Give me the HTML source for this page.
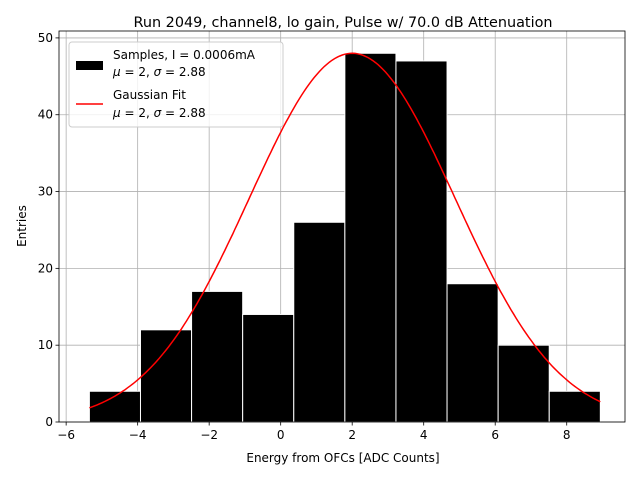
<!DOCTYPE html>
<html><head><meta charset="utf-8"><style>
body{margin:0;background:#fff;font-family:"Liberation Sans","DejaVu Sans",sans-serif}
</style></head><body>
<svg id="chart" width="640" height="480" xmlns="http://www.w3.org/2000/svg" font-family="DejaVu Sans, Liberation Sans, sans-serif">
<g id="grid"></g><g id="bars"></g><g id="fit"></g><g id="axes"></g><g id="legend"></g>
</svg>
<script>
const binStart = -5.35;
const binWidth = 1.429;
const counts = [4, 12, 17, 14, 26, 48, 47, 18, 10, 4];
const fitAmp = [48];
const fitMu = [2];
const fitSigma = [2.88];
const xTicks = [-6, -4, -2, 0, 2, 4, 6, 8];
const yTicks = [0, 10, 20, 30, 40, 50];

const L=59,R=625,T=31,B=422;
const xmin=-6.2,xmax=9.63,ymin=0,ymax=50.9;
const X=v=>L+(v-xmin)/(xmax-xmin)*(R-L);
const Y=v=>B-(v-ymin)/(ymax-ymin)*(B-T);
const NS="http://www.w3.org/2000/svg";
function mk(tag,attrs,parent,text){const e=document.createElementNS(NS,tag);for(const k in attrs)e.setAttribute(k,attrs[k]);if(text!==undefined)e.textContent=text;parent.appendChild(e);return e;}
const grid=document.getElementById('grid'),bars=document.getElementById('bars'),fit=document.getElementById('fit'),axes=document.getElementById('axes'),legend=document.getElementById('legend');

xTicks.forEach(t=>{const g=mk('line',{x1:X(t),x2:X(t),y1:T,y2:B,stroke:'#b0b0b0','stroke-width':0.8},grid);
});
yTicks.forEach(t=>{const g=mk('line',{x1:L,x2:R,y1:Y(t),y2:Y(t),stroke:'#b0b0b0','stroke-width':0.8},grid);
});

counts.forEach((c,i)=>{const x0=binStart+i*binWidth;
const r=mk('rect',{x:X(x0),y:Y(c),width:X(x0+binWidth)-X(x0),height:Y(0)-Y(c),fill:'#000',stroke:'#fff','stroke-width':1},bars);

});

let pts=[];const x1=binStart+counts.length*binWidth;
for(let k=0;k<=200;k++){const x=binStart+(x1-binStart)*k/200;
const y=fitAmp[0]*Math.exp(-((x-fitMu[0])**2)/(2*fitSigma[0]**2));pts.push(X(x).toFixed(1)+','+Y(y).toFixed(1));}
const pl=mk('polyline',{points:pts.join(' '),fill:'none',stroke:'#ff0000','stroke-width':1.5},fit);


const frame=mk('rect',{x:L,y:T,width:R-L,height:B-T,fill:'none',stroke:'#000','stroke-width':0.8},axes);

xTicks.forEach(t=>{mk('line',{x1:X(t),x2:X(t),y1:B,y2:B+3.5,stroke:'#000','stroke-width':0.8},axes);
const tx=mk('text',{x:X(t),y:B+17,'text-anchor':'middle','font-size':12},axes,t<0?'\u2212'+(-t):String(t));
});
yTicks.forEach(t=>{mk('line',{x1:L-3.5,x2:L,y1:Y(t),y2:Y(t),stroke:'#000','stroke-width':0.8},axes);
const tx=mk('text',{x:L-6,y:Y(t)+4,'text-anchor':'end','font-size':12},axes,String(t));
});
</script>
<svg style="position:absolute;left:0;top:0" width="640" height="480" xmlns="http://www.w3.org/2000/svg" font-family="DejaVu Sans, Liberation Sans, sans-serif">
<text x="343" y="27" text-anchor="middle" font-size="14.4">Run 2049, channel8, lo gain, Pulse w/ 70.0 dB Attenuation</text>
<text x="343" y="462" text-anchor="middle" font-size="12">Energy from OFCs [ADC Counts]</text>
<text x="26" y="226" text-anchor="middle" font-size="12" transform="rotate(-90 26 226)">Entries</text>
<g>
<rect x="69" y="42" width="214" height="85" rx="3" fill="#fff" fill-opacity="0.8" stroke="#ccc"/>
<rect x="76" y="61" width="27" height="9" fill="#000"/>
<text x="113" y="59" font-size="12">Samples, I = 0.0006mA</text>
<text x="113" y="76" font-size="12"><tspan font-style="italic">μ</tspan> = 2, <tspan font-style="italic">σ</tspan> = 2.88</text>
<line x1="76" x2="103" y1="104" y2="104" stroke="#f00" stroke-width="1.5"/>
<text x="113" y="99" font-size="12">Gaussian Fit</text>
<text x="113" y="117" font-size="12"><tspan font-style="italic">μ</tspan> = 2, <tspan font-style="italic">σ</tspan> = 2.88</text>
</g>
</svg>
</body></html>
